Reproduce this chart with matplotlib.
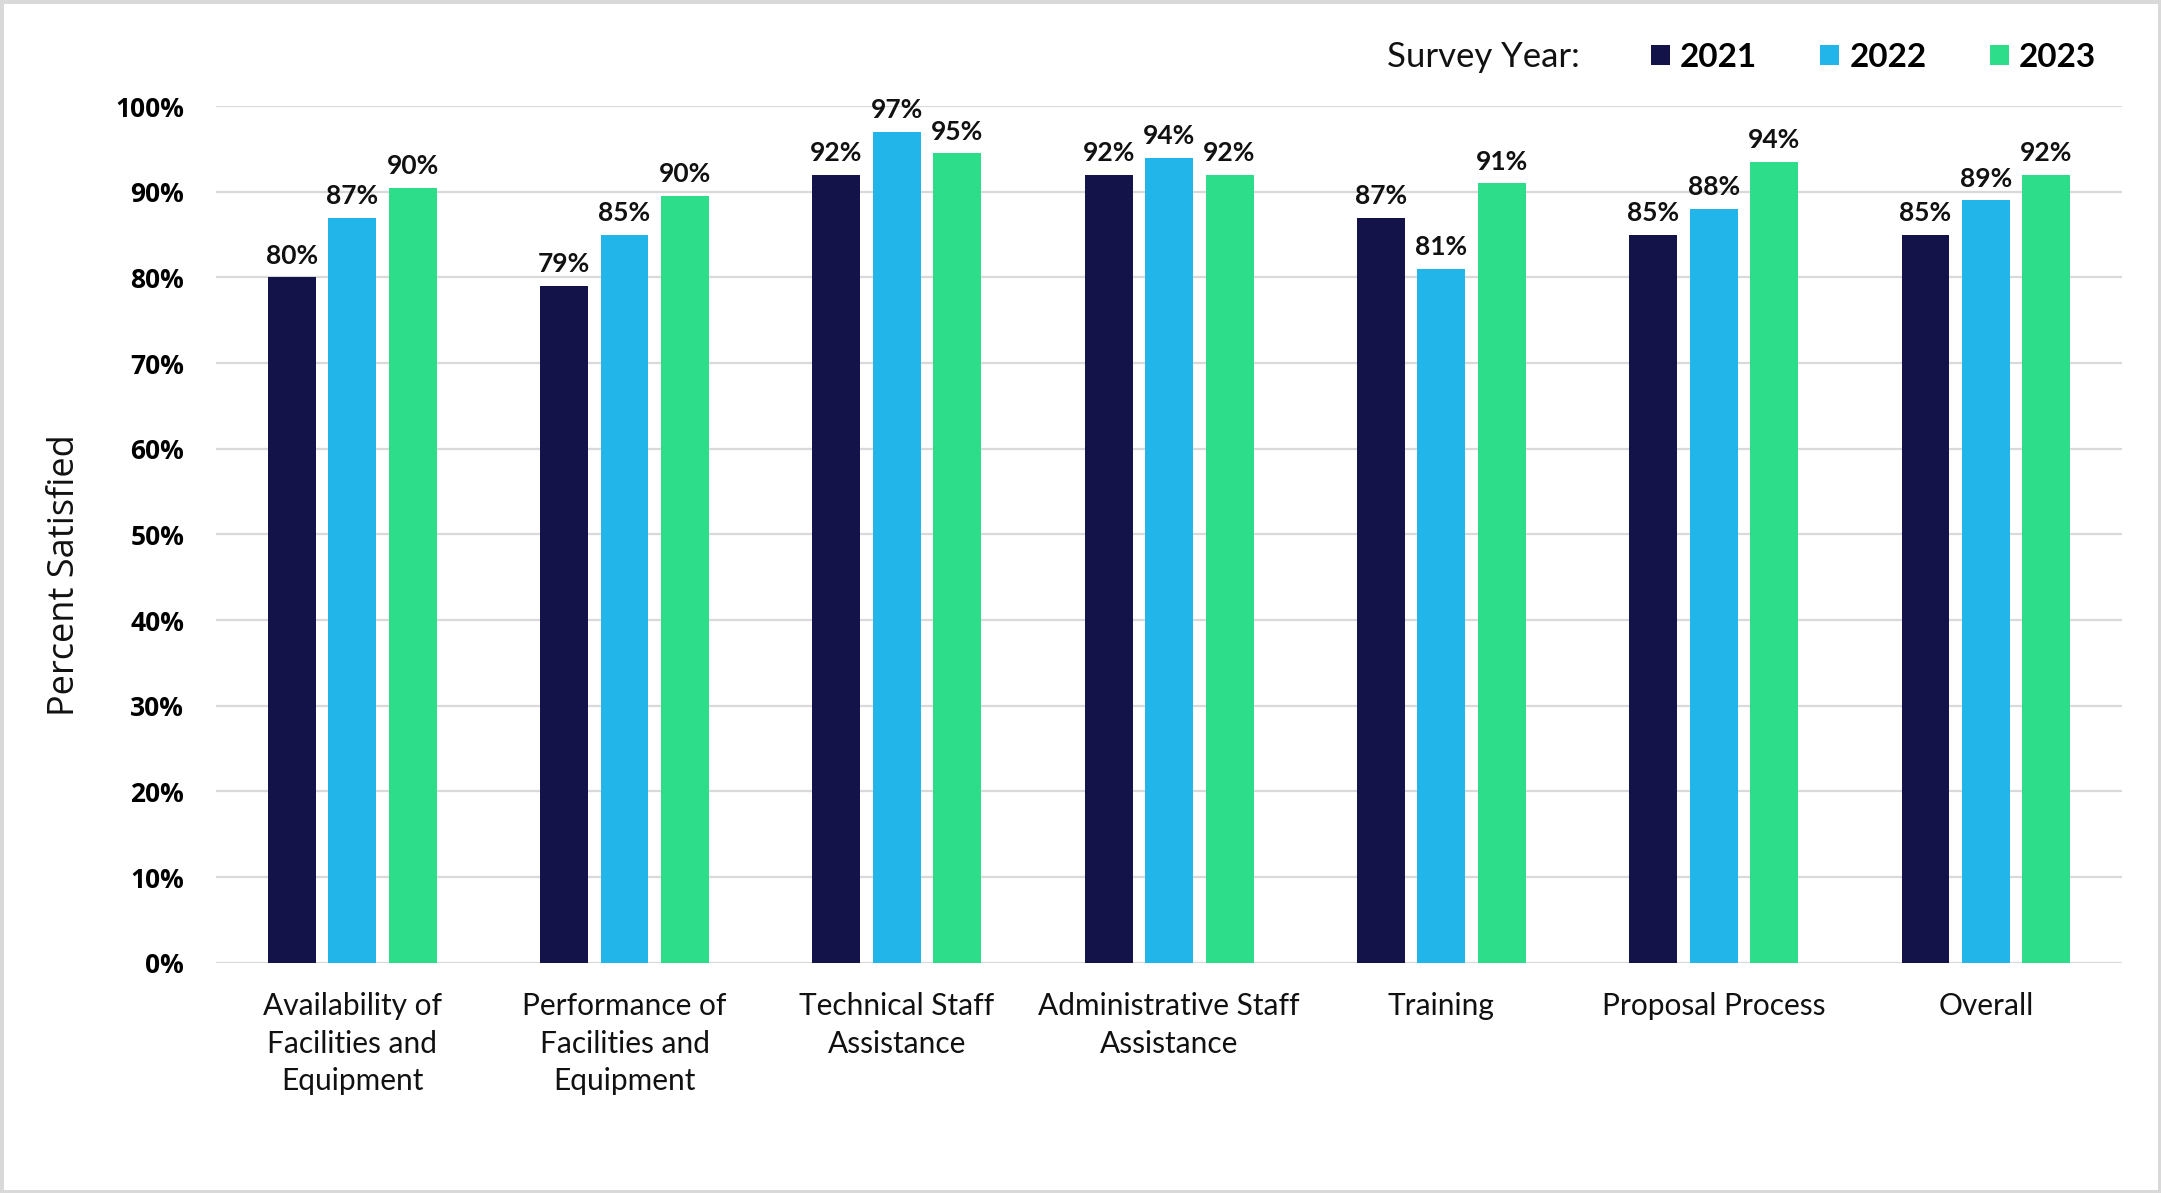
"""Survey satisfaction by category, grouped by survey year."""

import matplotlib.pyplot as plt
import numpy as np
from matplotlib.ticker import PercentFormatter

categories = [
    "Availability of\nFacilities and\nEquipment",
    "Performance of\nFacilities and\nEquipment",
    "Technical Staff\nAssistance",
    "Administrative Staff\nAssistance",
    "Training",
    "Proposal Process",
    "Overall",
]
years = ["2021", "2022", "2023"]
pct_2021 = [80, 79, 92, 92, 87, 85, 85]
pct_2022 = [87, 85, 97, 94, 81, 88, 89]
pct_2023 = [90.5, 89.5, 94.5, 92, 91, 93.5, 92]
labels_2021 = ["80%", "79%", "92%", "92%", "87%", "85%", "85%"]
labels_2022 = ["87%", "85%", "97%", "94%", "81%", "88%", "89%"]
labels_2023 = ["90%", "90%", "95%", "92%", "91%", "94%", "92%"]
y_ticks = [0, 10, 20, 30, 40, 50, 60, 70, 80, 90, 100]

colors = ["#13134A", "#21B5EA", "#2EDD8A"]
series = [pct_2021, pct_2022, pct_2023]
series_labels = [labels_2021, labels_2022, labels_2023]

fig = plt.figure(figsize=(21.61, 11.93), dpi=100)
fig.patch.set_facecolor("white")
fig.patch.set_edgecolor("#D9D9D9")
fig.patch.set_linewidth(5)
ax = fig.add_axes([0.1, 0.193, 0.882, 0.718])

x = np.arange(len(categories))
width = 0.176
step = 0.222
bars = []
for i, (vals, labs, color) in enumerate(zip(series, series_labels, colors)):
    b = ax.bar(x + (i - 1) * step, vals, width, color=color, zorder=3)
    bars.append(b)
    for rect, lab in zip(b, labs):
        ax.annotate(lab, (rect.get_x() + rect.get_width() / 2, rect.get_height()),
                    xytext=(0, 7), textcoords="offset points", ha="center", va="bottom",
                    fontsize=19, fontweight="bold", family="Lato", color="#111111")

ax.set_xlim(-0.5, len(categories) - 0.5)
ax.set_ylim(0, 100)
ax.set_yticks(y_ticks)
ax.yaxis.set_major_formatter(PercentFormatter(decimals=0))
ax.grid(axis="y", color="#D9D9D9", linewidth=1.6, zorder=0)
for s in ax.spines.values():
    s.set_visible(False)
ax.tick_params(axis="both", length=0)
ax.tick_params(axis="y", pad=23)
ax.tick_params(axis="x", pad=21)
for t in ax.get_yticklabels():
    t.set_fontfamily("Open Sans")
    t.set_fontweight("bold")
    t.set_fontsize(19)
ax.set_xticks(x)
ax.set_xticklabels(categories, family="Lato", fontsize=21.5, linespacing=1.42, color="#111111")

fig.text(0.030, 0.518, "Percent Satisfied", rotation=90, ha="center", va="center",
         family="Open Sans", fontsize=26, color="#111111")

fig.text(0.642, 0.952, "Survey Year:", ha="left", va="center", family="Lato",
         fontsize=25, color="#111111")
fig.legend(bars, years, loc="center right", bbox_to_anchor=(0.970, 0.952), ncol=3,
           frameon=False, borderpad=0, borderaxespad=0, handlelength=0.57,
           handleheight=0.55, handletextpad=0.3, columnspacing=1.9,
           prop={"family": "Lato", "weight": "bold", "size": 24})

fig.savefig("out.png", dpi=100, facecolor=fig.get_facecolor(), edgecolor=fig.get_edgecolor())
plt.close(fig)
